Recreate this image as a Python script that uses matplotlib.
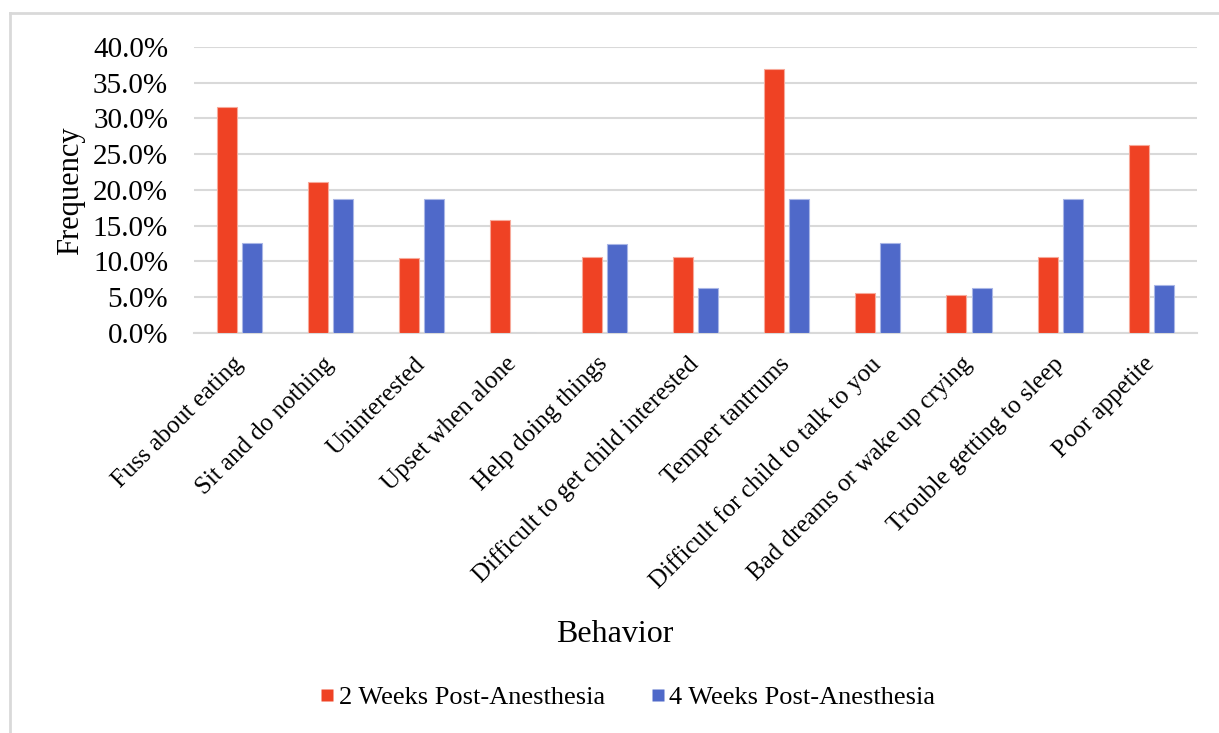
import matplotlib
matplotlib.use("Agg")
import matplotlib.pyplot as plt
import numpy as np
from matplotlib.lines import Line2D
from matplotlib.ticker import FuncFormatter

plt.rcParams['font.family'] = ['Liberation Serif', 'DejaVu Serif']

behaviors = ['Fuss about eating', 'Sit and do nothing', 'Uninterested',
             'Upset when alone', 'Help doing things',
             'Difficult to get child interested', 'Temper tantrums',
             'Difficult for child to talk to you', 'Bad dreams or wake up crying',
             'Trouble getting to sleep', 'Poor appetite']
week2 = [31.6, 21.1, 10.5, 15.8, 10.6, 10.6, 36.9, 5.6, 5.3, 10.6, 26.3]
week4 = [12.6, 18.8, 18.8, 0.0, 12.5, 6.3, 18.8, 12.6, 6.3, 18.8, 6.7]
series_names = ['2 Weeks Post-Anesthesia', '4 Weeks Post-Anesthesia']

RED = '#EF4224'
BLUE = '#4F69C9'

fig = plt.figure(figsize=(12.19, 7.33), dpi=100)
ax = fig.add_axes([0.159, 0.5457, 0.823, 0.3902])

x = np.arange(len(behaviors))
w = 0.22
ax.bar(x - 0.138, week2, w, color=RED, edgecolor='#F7A99A', linewidth=0.8, zorder=3)
ax.bar(x + 0.138, week4, w, color=BLUE, edgecolor='#A9B6E6', linewidth=0.8, zorder=3)

ax.set_xlim(-0.5, len(behaviors) - 0.5)
ax.set_ylim(0, 40)
ax.set_yticks(np.arange(0, 40.1, 5))
ax.yaxis.set_major_formatter(FuncFormatter(lambda v, p: '%.1f%%' % v))
ax.grid(axis='y', color='#D9D9D9', linewidth=1.5, zorder=0)
ax.set_axisbelow(True)
for s in ['top', 'right', 'left']:
    ax.spines[s].set_visible(False)
ax.spines['bottom'].set_color('#D9D9D9')
ax.spines['bottom'].set_linewidth(1.5)
ax.tick_params(axis='both', length=0)
ax.tick_params(axis='y', labelsize=21, pad=18.5)

ax.set_xticks(x)
ax.set_xticklabels(behaviors, rotation=45, ha='right', va='center',
                   rotation_mode='anchor', fontsize=18)
ax.tick_params(axis='x', pad=20)

fig.text(0.058, 0.74, 'Frequency', rotation=90, ha='center', va='center', fontsize=22)
fig.text(0.5045, 0.134, 'Behavior', ha='center', va='center', fontsize=23)

handles = [Line2D([], [], marker='s', linestyle='none', markersize=8.5,
                  markerfacecolor=c, markeredgecolor='none') for c in (RED, BLUE)]
fig.legend(handles, series_names, loc='center', bbox_to_anchor=(0.515, 0.049),
           ncol=2, frameon=False, fontsize=19, handlelength=0.5,
           handletextpad=0.2, columnspacing=1.75)

# partial chart border (top and left edges visible)
fig.add_artist(Line2D([0.0082, 1.0], [0.982, 0.982], transform=fig.transFigure,
                      color='#D9D9D9', linewidth=2))
fig.add_artist(Line2D([0.0082, 0.0082], [0.0, 0.982], transform=fig.transFigure,
                      color='#D9D9D9', linewidth=2))

fig.savefig('out.png', dpi=100)
